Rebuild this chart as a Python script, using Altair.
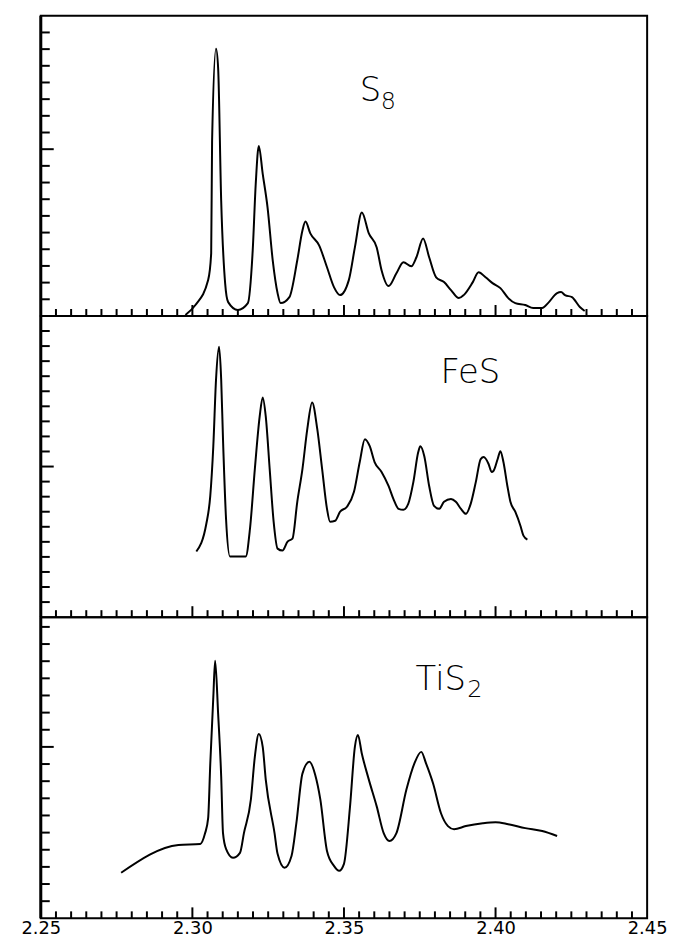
import altair as alt
import pandas as pd

# ---------------- data ----------------
s8_x = [2.2977, 2.3010, 2.3052, 2.3062, 2.3065, 2.3078, 2.3085, 2.3095, 2.3108, 2.3118,
        2.3150, 2.3183, 2.3199, 2.3209, 2.3219, 2.3232, 2.3248, 2.3265, 2.3281, 2.3291,
        2.3320, 2.3346, 2.3363, 2.3373, 2.3389, 2.3418, 2.3444, 2.3467, 2.3487, 2.3516,
        2.3536, 2.3559, 2.3582, 2.3608, 2.3624, 2.3647, 2.3673, 2.3696, 2.3722, 2.3739,
        2.3761, 2.3781, 2.3804, 2.3830, 2.3853, 2.3879, 2.3895, 2.3925, 2.3944, 2.3967,
        2.3990, 2.4016, 2.4042, 2.4065, 2.4098, 2.4124, 2.4154, 2.4173, 2.4203, 2.4216,
        2.4229, 2.4252, 2.4278, 2.4294]
s8_y = [0.06, 0.66, 2.15, 3.75, 10.49, 16.03, 14.84, 6.91, 1.97, 0.83,
        0.36, 0.77, 3.93, 7.93, 10.19, 8.52, 6.50, 3.34, 1.37, 0.77,
        1.13, 3.34, 5.13, 5.66, 4.95, 4.23, 2.92, 1.73, 1.25, 2.15,
        4.11, 6.20, 4.95, 4.11, 2.74, 1.79, 2.56, 3.22, 2.98, 3.52,
        4.65, 3.52, 2.32, 2.03, 1.55, 1.07, 1.25, 2.03, 2.62, 2.32,
        1.97, 1.67, 1.07, 0.77, 0.66, 0.48, 0.48, 0.77, 1.37, 1.43,
        1.25, 1.13, 0.54, 0.30]

fes_x = [2.3013, 2.3046, 2.3059, 2.3069, 2.3078, 2.3088, 2.3095, 2.3101, 2.3111, 2.3124,
         2.3176, 2.3190, 2.3206, 2.3222, 2.3232, 2.3242, 2.3255, 2.3268, 2.3281, 2.3297,
         2.3314, 2.3330, 2.3346, 2.3363, 2.3379, 2.3395, 2.3412, 2.3428, 2.3444, 2.3454,
         2.3471, 2.3487, 2.3510, 2.3533, 2.3552, 2.3569, 2.3585, 2.3601, 2.3624, 2.3647,
         2.3663, 2.3680, 2.3696, 2.3712, 2.3729, 2.3745, 2.3752, 2.3765, 2.3781, 2.3797,
         2.3814, 2.3830, 2.3853, 2.3869, 2.3886, 2.3902, 2.3918, 2.3935, 2.3951, 2.3961,
         2.3977, 2.3987, 2.3993, 2.4007, 2.4016, 2.4026, 2.4039, 2.4049, 2.4065, 2.4082,
         2.4092, 2.4105]
fes_y = [4.36, 6.20, 8.05, 11.35, 15.78, 17.95, 15.78, 11.82, 6.53, 4.03,
         4.03, 5.87, 9.83, 13.33, 14.59, 13.33, 9.83, 6.34, 4.55, 4.42,
         5.02, 5.21, 7.66, 9.83, 12.48, 14.26, 12.48, 9.83, 7.19, 6.34,
         6.40, 7.00, 7.33, 8.32, 10.30, 11.82, 11.35, 10.30, 9.64, 8.71,
         7.85, 7.19, 7.13, 7.52, 8.98, 10.96, 11.35, 10.69, 8.71, 7.39,
         7.19, 7.66, 7.85, 7.66, 7.19, 6.86, 7.52, 8.98, 10.50, 10.63,
         10.17, 9.64, 9.70, 10.50, 11.02, 10.30, 8.71, 7.66, 7.00, 6.07,
         5.41, 5.15]

tis2_x = [2.2765, 2.2954, 2.3026, 2.3042, 2.3052, 2.3059, 2.3069, 2.3075, 2.3085, 2.3095,
          2.3101, 2.3111, 2.3134, 2.3157, 2.3170, 2.3193, 2.3206, 2.3219, 2.3232, 2.3242,
          2.3271, 2.3281, 2.3304, 2.3327, 2.3343, 2.3363, 2.3386, 2.3405, 2.3422, 2.3444,
          2.3467, 2.3484, 2.3500, 2.3520, 2.3536, 2.3546, 2.3559, 2.3582, 2.3608, 2.3631,
          2.3650, 2.3673, 2.3706, 2.3732, 2.3755, 2.3771, 2.3794, 2.3820, 2.3843, 2.3863,
          2.3902, 2.3958, 2.4000, 2.4042, 2.4098, 2.4154, 2.4203]
tis2_y = [2.66, 4.28, 4.34, 4.97, 5.84, 9.02, 12.89, 15.03, 11.91, 8.27,
          4.97, 4.05, 3.53, 3.82, 4.97, 6.94, 9.42, 10.75, 10.00, 8.09,
          4.97, 3.76, 2.95, 3.64, 5.55, 8.44, 9.13, 8.38, 6.94, 3.93,
          3.06, 2.77, 3.18, 6.53, 10.00, 10.69, 9.60, 8.09, 6.53, 4.97,
          4.51, 4.97, 7.51, 9.02, 9.71, 9.02, 7.86, 6.13, 5.38, 5.20,
          5.38, 5.55, 5.61, 5.49, 5.26, 5.09, 4.80]

x_minor_ticks = [2.255, 2.260, 2.265, 2.270, 2.275, 2.280, 2.285, 2.290, 2.295,
                 2.305, 2.310, 2.315, 2.320, 2.325, 2.330, 2.335, 2.340, 2.345,
                 2.355, 2.360, 2.365, 2.370, 2.375, 2.380, 2.385, 2.390, 2.395,
                 2.405, 2.410, 2.415, 2.420, 2.425, 2.430, 2.435, 2.440, 2.445]
x_major_ticks = [2.30, 2.35, 2.40]
x_tick_labels = [2.25, 2.30, 2.35, 2.40, 2.45]

y_ticks_s8 = [1, 2, 3, 4, 5, 6, 7, 8, 9, 11, 12, 13, 14, 15, 16, 17]
y_ticks_fes = [1, 2, 3, 4, 5, 6, 7, 8, 9, 11, 12, 13, 14, 15, 16, 17, 18, 19]
y_ticks_tis2 = [1, 2, 3, 4, 5, 6, 7, 8, 9, 11, 12, 13, 14, 15, 16, 17]
y_long_tick = [10]

FONT = "DejaVu Sans"
W = 610


def panel(xs, ys, ymax, yticks, h, texts, show_labels):
    xsc = alt.Scale(domain=[2.25, 2.45], nice=False, zero=False)
    ysc = alt.Scale(domain=[0, ymax], nice=False, zero=False)
    if show_labels:
        xaxis = alt.Axis(values=x_tick_labels, format=".2f", ticks=False, domain=False,
                         grid=False, title=None, labelFlush=False, labelFont=FONT,
                         labelFontSize=18, labelColor="black", labelPadding=1,
                         labelOverlap=False)
    else:
        xaxis = None

    line = alt.Chart(pd.DataFrame({"x": xs, "y": ys})).mark_line(
        color="black", strokeWidth=2, strokeJoin="round", interpolate="monotone"
    ).encode(
        x=alt.X("x:Q", scale=xsc, axis=xaxis),
        y=alt.Y("y:Q", scale=ysc, axis=None),
    )
    minor = alt.Chart(pd.DataFrame({"t": x_minor_ticks})).mark_rule(
        color="black", strokeWidth=2
    ).encode(x=alt.X("t:Q", scale=xsc, axis=xaxis), y=alt.value(h), y2=alt.value(h - 7))
    major = alt.Chart(pd.DataFrame({"t": x_major_ticks})).mark_rule(
        color="black", strokeWidth=2
    ).encode(x=alt.X("t:Q", scale=xsc, axis=xaxis), y=alt.value(h), y2=alt.value(h - 11))
    yt = alt.Chart(pd.DataFrame({"t": yticks})).mark_rule(
        color="black", strokeWidth=2
    ).encode(y=alt.Y("t:Q", scale=ysc, axis=None), x=alt.value(0), x2=alt.value(9))
    ylong = alt.Chart(pd.DataFrame({"t": y_long_tick})).mark_rule(
        color="black", strokeWidth=2
    ).encode(y=alt.Y("t:Q", scale=ysc, axis=None), x=alt.value(0), x2=alt.value(13))
    left = alt.Chart(pd.DataFrame({"t": [0]})).mark_rule(
        color="black", strokeWidth=3
    ).encode(x=alt.value(0), y=alt.value(0), y2=alt.value(h))

    layers = [line, minor, major, yt, ylong, left]
    for txt, px, py, fs in texts:
        layers.append(
            alt.Chart(pd.DataFrame({"t": [txt]})).mark_text(
                align="left", baseline="alphabetic", font=FONT, fontSize=fs,
                fontWeight=300, color="black"
            ).encode(text="t:N", x=alt.value(px), y=alt.value(py))
        )
    return alt.layer(*layers).properties(width=W, height=h)


p1 = panel(s8_x, s8_y, 18, y_ticks_s8, 302,
           [("S", 321, 86, 34), ("8", 342, 94, 24)], False)
p2 = panel(fes_x, fes_y, 20, y_ticks_fes, 303,
           [("FeS", 402, 67, 34)], False)
p3 = panel(tis2_x, tis2_y, 17.57, y_ticks_tis2, 303,
           [("TiS", 377, 73, 34), ("2", 429, 80, 24)], True)

chart = alt.vconcat(p1, p2, p3, spacing=0, bounds="flush").properties(
    padding={"left": 11, "top": 2, "right": 0, "bottom": 0},
    background="white",
).configure_view(stroke="black", strokeWidth=2)

chart.save("out.html", embed_options={"renderer": "svg", "actions": False})
